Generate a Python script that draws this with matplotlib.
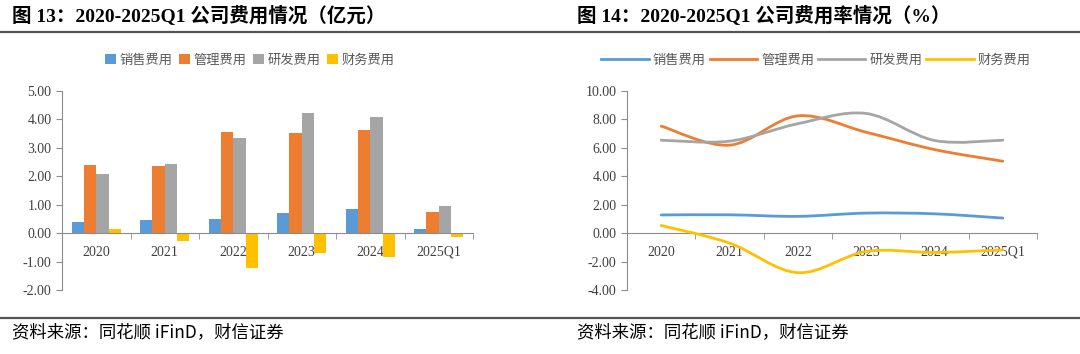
import numpy as np
import matplotlib
matplotlib.use('Agg')
import matplotlib.pyplot as plt
from matplotlib.path import Path
from matplotlib.patches import PathPatch
from matplotlib.lines import Line2D

plt.rcParams['font.family'] = ['Liberation Serif', 'Noto Sans CJK SC', 'DejaVu Sans']

# 数据
years = ['2020', '2021', '2022', '2023', '2024', '2025Q1']
series = ['销售费用', '管理费用', '研发费用', '财务费用']
colors = ['#5B9BD5', '#ED7D31', '#A5A5A5', '#FFC000']

# 费用（亿元）
sales_amt = [0.40, 0.47, 0.50, 0.70, 0.85, 0.16]
admin_amt = [2.40, 2.35, 3.57, 3.53, 3.64, 0.73]
rd_amt = [2.08, 2.43, 3.33, 4.23, 4.08, 0.95]
fin_amt = [0.15, -0.27, -1.23, -0.70, -0.85, -0.15]

# 费用率（%）
sales_rate = [1.28, 1.29, 1.18, 1.41, 1.36, 1.06]
admin_rate = [7.53, 6.19, 8.25, 7.10, 5.88, 5.06]
rd_rate = [6.54, 6.47, 7.70, 8.42, 6.52, 6.54]
fin_rate = [0.54, -0.70, -2.78, -1.29, -1.36, -1.18]

W, H = 1080, 354
fig = plt.figure(figsize=(W / 100, H / 100), dpi=100)

def fx(px):
    return px / W

def fy(py):
    return 1 - py / H

# 标题、分隔线、来源
fig.text(fx(12), fy(15), '图 13：2020-2025Q1 公司费用情况（亿元）', fontsize=14,
         fontweight='bold', va='center', ha='left')
fig.text(fx(577), fy(15), '图 14：2020-2025Q1 公司费用率情况（%）', fontsize=14,
         fontweight='bold', va='center', ha='left')
fig.add_artist(Line2D([0, 1], [fy(31.5), fy(31.5)], color='#555555', lw=1.6))
fig.add_artist(Line2D([0, 1], [fy(318), fy(318)], color='#555555', lw=1.6))
for sx in (12, 577):
    fig.text(fx(sx), fy(332), '资料来源：同花顺 iFinD，财信证券', fontsize=12.5,
             va='center', ha='left', style='italic', family=['Noto Sans CJK SC'])

tick_color = '#404040'
axis_color = '#8C8C8C'

def style_axes(ax):
    for s in ['top', 'right']:
        ax.spines[s].set_visible(False)
    ax.spines['left'].set_color(axis_color)
    ax.spines['bottom'].set_color(axis_color)
    ax.spines['bottom'].set_position(('data', 0))
    ax.tick_params(axis='y', colors=axis_color, labelcolor=tick_color, labelsize=10, length=4)
    ax.tick_params(axis='x', which='major', length=0, labelcolor=tick_color, labelsize=10, pad=9)
    ax.tick_params(axis='x', which='minor', length=4, color=axis_color, direction='out')
    ax.yaxis.set_major_formatter(matplotlib.ticker.FormatStrFormatter('%.2f'))
    ax.set_xticks(np.arange(len(years)))
    ax.set_xticklabels(years)
    # 分类刻度线
    ax.set_xticks(np.arange(-0.5, len(years)), minor=True)
    ax.set_xlim(-0.5, len(years) - 0.5)

legend_kw = dict(loc='center', bbox_transform=fig.transFigure, ncol=4, frameon=False,
                 handletextpad=0.3, labelcolor='#595959',
                 prop={'family': ['Noto Sans CJK SC'], 'size': 9.5})

# 左图：柱状图
ax1 = fig.add_axes([fx(62), fy(290), fx(473 - 62), (290 - 91) / H])
x = np.arange(len(years))
bw = 0.18
all_amt = [sales_amt, admin_amt, rd_amt, fin_amt]
for i, (vals, name, c) in enumerate(zip(all_amt, series, colors)):
    ax1.bar(x + (i - 1.5) * bw, vals, bw, color=c, label=name, zorder=2)
ax1.set_ylim(-2, 5)
ax1.set_yticks(np.arange(-2, 5.01, 1))
style_axes(ax1)
ax1.legend(bbox_to_anchor=(fx(250), fy(60)), handlelength=0.8, handleheight=0.8,
           columnspacing=0.5, **legend_kw)

# 右图：平滑折线
def smooth_path(xs, ys):
    # Excel 风格平滑：三次贝塞尔，控制点取相邻点差的 1/6
    n = len(xs)
    verts = [(xs[0], ys[0])]
    codes = [Path.MOVETO]
    for i in range(n - 1):
        x0, y0 = xs[max(i - 1, 0)], ys[max(i - 1, 0)]
        x1, y1 = xs[i], ys[i]
        x2, y2 = xs[i + 1], ys[i + 1]
        x3, y3 = xs[min(i + 2, n - 1)], ys[min(i + 2, n - 1)]
        c1 = (x1 + (x2 - x0) / 6, y1 + (y2 - y0) / 6)
        c2 = (x2 - (x3 - x1) / 6, y2 - (y3 - y1) / 6)
        verts += [c1, c2, (x2, y2)]
        codes += [Path.CURVE4] * 3
    return Path(verts, codes)

ax2 = fig.add_axes([fx(627), fy(290), fx(1037 - 627), (290 - 91) / H])
all_rate = [sales_rate, admin_rate, rd_rate, fin_rate]
handles = []
for vals, name, c in zip(all_rate, series, colors):
    p = PathPatch(smooth_path(x, vals), facecolor='none', edgecolor=c, lw=2.0,
                  capstyle='round', zorder=3)
    ax2.add_patch(p)
    handles.append(Line2D([], [], color=c, lw=2.0, label=name))
ax2.set_ylim(-4, 10)
ax2.set_yticks(np.arange(-4, 10.01, 2))
style_axes(ax2)
ax2.legend(handles=handles, bbox_to_anchor=(fx(816), fy(60)), handlelength=3.6,
           columnspacing=0.3, **legend_kw)

plt.savefig('out.png', dpi=100)
plt.close()
